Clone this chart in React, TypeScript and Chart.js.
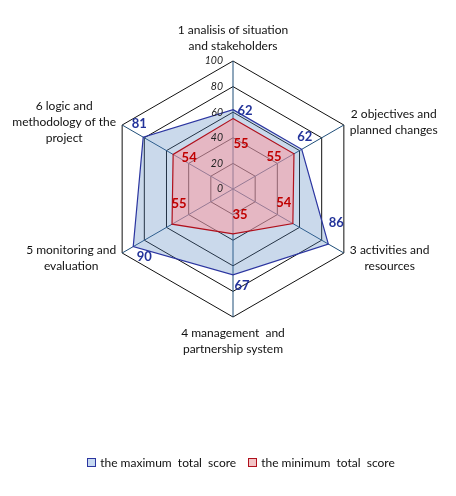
import React, { useEffect, useRef } from 'react';
import { Chart, registerables } from 'chart.js';

Chart.register(...registerables);

const categories: string[][] = [
  ['1 analisis of situation', 'and stakeholders'],
  ['2 objectives and', 'planned changes'],
  ['3 activities and', 'resources'],
  ['4 management  and', 'partnership system'],
  ['5 monitoring and', 'evaluation'],
  ['6 logic and', 'methodology of the', 'project'],
];
const maxScores = [62, 62, 86, 67, 90, 81];
const minScores = [55, 55, 54, 35, 55, 54];
const tickValues = [0, 20, 40, 60, 80, 100];
const seriesNames = ['the maximum  total  score', 'the minimum  total  score'];

// label nudges, [dx, dy] from each point (styling only)
const maxLabelShift = [[12, 1], [3, -13], [8, -21], [9, 11], [11, 10], [-4, -13]];
const minLabelShift = [[8, 25], [-20, 3], [-9, -21], [7, -19], [7, -20], [16, 3]];

const FONT = 'Lato, "Open Sans", sans-serif';
const BLUE_LINE = '#2b35a0';
const BLUE_TEXT = '#23339a';
const RED_LINE = '#b0101c';
const RED_TEXT = '#c00000';

const radarText = {
  id: 'radarText',
  afterDraw(chart: any) {
    const ctx = chart.ctx;
    const scale = chart.scales.r;
    const cx = scale.xCenter;
    const cy = scale.yCenter;
    ctx.save();

    // tick labels along the first axis
    ctx.font = `italic 10.5px ${FONT}`;
    ctx.fillStyle = '#222';
    ctx.textAlign = 'right';
    ctx.textBaseline = 'middle';
    tickValues.forEach(v => {
      const d = scale.getDistanceFromCenterForValue(v);
      ctx.fillText(String(v), cx - 10, cy - d);
    });

    // category labels
    ctx.font = `12px ${FONT}`;
    ctx.fillStyle = '#111';
    ctx.textAlign = 'center';
    const lh = 16;
    categories.forEach((lines, i) => {
      const p = scale.getPointPosition(i, scale.drawingArea);
      const bw = Math.max(...lines.map(l => ctx.measureText(l).width));
      const bh = lines.length * lh;
      let x = p.x;
      let top: number;
      if (Math.abs(p.x - cx) < 2) {
        top = p.y < cy ? p.y - 7 - bh : p.y + 8;
      } else {
        x = p.x > cx ? p.x + 6 + bw / 2 : p.x - 6 - bw / 2;
        top = (p.y < cy ? p.y - 3 : p.y + 5) - bh / 2;
      }
      lines.forEach((l, k) => ctx.fillText(l, x, top + lh * k + lh / 2));
    });

    // value labels
    ctx.font = `bold 13px ${FONT}`;
    const drawVals = (di: number, vals: number[], shift: number[][], color: string) => {
      const meta = chart.getDatasetMeta(di);
      ctx.fillStyle = color;
      meta.data.forEach((pt: any, i: number) => {
        ctx.fillText(String(vals[i]), pt.x + shift[i][0], pt.y + shift[i][1]);
      });
    };
    drawVals(0, maxScores, maxLabelShift, BLUE_TEXT);
    drawVals(1, minScores, minLabelShift, RED_TEXT);
    ctx.restore();
  },
};

const LegendItem = (props: { label: string; fill: string; border: string }) => (
  <span style={{ display: 'inline-flex', alignItems: 'center', margin: '0 6px' }}>
    <span style={{ width: 7, height: 7, background: props.fill, border: `1px solid ${props.border}`, marginRight: 4 }} />
    <span style={{ whiteSpace: 'pre' }}>{props.label}</span>
  </span>
);

export default function App() {
  const canvasRef = useRef<HTMLCanvasElement>(null);

  useEffect(() => {
    document.body.style.margin = '0';
    const chart = new Chart(canvasRef.current as HTMLCanvasElement, {
      type: 'radar',
      data: {
        labels: categories,
        datasets: [
          {
            label: seriesNames[0],
            data: maxScores,
            borderColor: BLUE_LINE,
            backgroundColor: 'rgba(79,129,189,0.3)',
            borderWidth: 1.2,
            pointRadius: 0,
            fill: true,
            order: 2,
          },
          {
            label: seriesNames[1],
            data: minScores,
            borderColor: RED_LINE,
            backgroundColor: 'rgba(255,150,155,0.5)',
            borderWidth: 1.2,
            pointRadius: 0,
            fill: true,
            order: 1,
          },
        ],
      },
      options: {
        animation: false,
        responsive: true,
        maintainAspectRatio: false,
        layout: { padding: { left: 105, right: 95, top: 61, bottom: 179 } },
        plugins: { legend: { display: false }, tooltip: { enabled: false } },
        elements: { line: { tension: 0 } },
        scales: {
          r: {
            min: 0,
            max: 100,
            ticks: { display: false, stepSize: 20 },
            grid: { color: '#111', lineWidth: 1 },
            angleLines: { color: '#1f4e79', lineWidth: 1 },
            pointLabels: { display: false },
          },
        },
      },
      plugins: [radarText],
    });
    return () => chart.destroy();
  }, []);

  return (
    <div style={{ position: 'relative', width: 456, height: 496, background: '#fff' }}>
      <canvas ref={canvasRef} />
      <div
        style={{
          position: 'absolute', left: 0, top: 455, width: 456, paddingLeft: 26, boxSizing: 'border-box',
          display: 'flex', justifyContent: 'center', fontFamily: FONT, fontSize: 12, color: '#111',
        }}
      >
        <LegendItem label={seriesNames[0]} fill="#c6d9f1" border={BLUE_LINE} />
        <LegendItem label={seriesNames[1]} fill="#f2c4c6" border={RED_LINE} />
      </div>
    </div>
  );
}
